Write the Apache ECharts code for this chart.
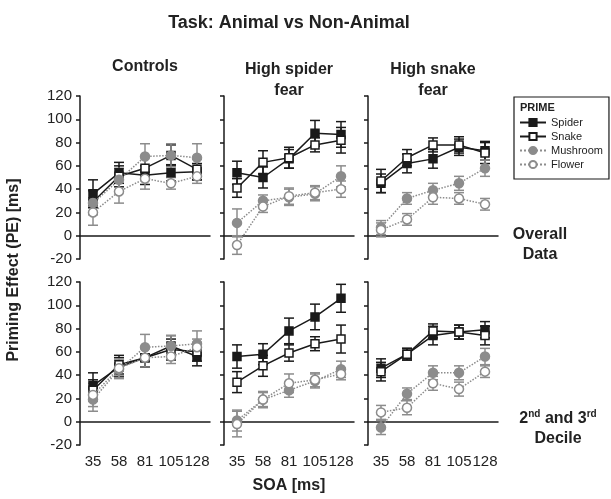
<!DOCTYPE html>
<html>
<head>
<meta charset="utf-8">
<script src="https://cdn.jsdelivr.net/npm/echarts@6/dist/echarts.min.js"></script>
<style>
  html, body { margin: 0; padding: 0; background: #fff; }
  #chart { width: 611px; height: 499px; }
</style>
</head>
<body>
<div id="chart"></div>
<script>
// SOA levels on the x axis
const soa = ['35', '58', '81', '105', '128'];
const primes = ['Spider', 'Snake', 'Mushroom', 'Flower'];

// Priming effect (ms) per group, row 1 = overall data
const ctrlAllSpider   = [36, 54, 52, 54, 55];
const ctrlAllSnake    = [29, 51, 58, 69, 57];
const ctrlAllMushroom = [28, 48, 68, 69, 67];
const ctrlAllFlower   = [20, 38, 49, 45, 51];
const ctrlAllSpiderErr   = [12, 9, 8, 7, 7];
const ctrlAllSnakeErr    = [10, 9, 10, 9, 9];
const ctrlAllMushroomErr = [10, 10, 11, 10, 12];
const ctrlAllFlowerErr   = [11, 10, 9, 5, 6];

const spiAllSpider   = [54, 50, 66, 88, 87];
const spiAllSnake    = [41, 63, 67, 78, 82];
const spiAllMushroom = [11, 30, 33, 36, 51];
const spiAllFlower   = [-8, 25, 34, 37, 40];
const spiAllSpiderErr   = [10, 9, 8, 11, 11];
const spiAllSnakeErr    = [8, 10, 9, 6, 11];
const spiAllMushroomErr = [12, 5, 7, 6, 9];
const spiAllFlowerErr   = [8, 5, 7, 6, 7];

const snaAllSpider   = [45, 62, 66, 76, 73];
const snaAllSnake    = [47, 67, 78, 78, 71];
const snaAllMushroom = [7, 32, 39, 45, 58];
const snaAllFlower   = [5, 14, 33, 32, 27];
const snaAllSpiderErr   = [8, 8, 8, 7, 8];
const snaAllSnakeErr    = [10, 7, 6, 7, 9];
const snaAllMushroomErr = [6, 5, 6, 6, 7];
const snaAllFlowerErr   = [6, 5, 6, 5, 5];

// Row 2 = 2nd and 3rd decile
const ctrlDecSpider   = [31, 47, 55, 65, 56];
const ctrlDecSnake    = [27, 49, 55, 62, 60];
const ctrlDecMushroom = [19, 45, 64, 65, 67];
const ctrlDecFlower   = [23, 46, 55, 56, 64];
const ctrlDecSpiderErr   = [11, 8, 8, 9, 8];
const ctrlDecSnakeErr    = [9, 8, 8, 9, 8];
const ctrlDecMushroomErr = [10, 8, 11, 9, 11];
const ctrlDecFlowerErr   = [10, 8, 8, 6, 7];

const spiDecSpider   = [56, 58, 78, 90, 106];
const spiDecSnake    = [34, 48, 59, 67, 71];
const spiDecMushroom = [1, 19, 27, 35, 45];
const spiDecFlower   = [-2, 19, 33, 36, 41];
const spiDecSpiderErr   = [10, 9, 11, 11, 12];
const spiDecSnakeErr    = [9, 9, 7, 6, 12];
const spiDecMushroomErr = [9, 6, 6, 6, 7];
const spiDecFlowerErr   = [11, 7, 8, 6, 5];

const snaDecSpider   = [46, 58, 74, 77, 79];
const snaDecSnake    = [43, 58, 78, 77, 74];
const snaDecMushroom = [-5, 24, 42, 42, 56];
const snaDecFlower   = [8, 12, 33, 28, 43];
const snaDecSpiderErr   = [8, 5, 8, 6, 7];
const snaDecSnakeErr    = [8, 5, 6, 6, 8];
const snaDecMushroomErr = [6, 5, 6, 6, 7];
const snaDecFlowerErr   = [6, 6, 6, 6, 5];

const panels = [
  [ctrlAllSpider, ctrlAllSnake, ctrlAllMushroom, ctrlAllFlower],
  [spiAllSpider, spiAllSnake, spiAllMushroom, spiAllFlower],
  [snaAllSpider, snaAllSnake, snaAllMushroom, snaAllFlower],
  [ctrlDecSpider, ctrlDecSnake, ctrlDecMushroom, ctrlDecFlower],
  [spiDecSpider, spiDecSnake, spiDecMushroom, spiDecFlower],
  [snaDecSpider, snaDecSnake, snaDecMushroom, snaDecFlower]
];
const panelErrs = [
  [ctrlAllSpiderErr, ctrlAllSnakeErr, ctrlAllMushroomErr, ctrlAllFlowerErr],
  [spiAllSpiderErr, spiAllSnakeErr, spiAllMushroomErr, spiAllFlowerErr],
  [snaAllSpiderErr, snaAllSnakeErr, snaAllMushroomErr, snaAllFlowerErr],
  [ctrlDecSpiderErr, ctrlDecSnakeErr, ctrlDecMushroomErr, ctrlDecFlowerErr],
  [spiDecSpiderErr, spiDecSnakeErr, spiDecMushroomErr, spiDecFlowerErr],
  [snaDecSpiderErr, snaDecSnakeErr, snaDecMushroomErr, snaDecFlowerErr]
];

const FONT = '"Liberation Sans", Arial, sans-serif';
const DARK = '#1a1a1a';
const GREY = '#8c8c8c';

// visual style of each prime
const styles = [
  { symbol: 'rect',   size: 8, fill: DARK,   stroke: DARK, line: DARK, type: 'solid',  bar: DARK },
  { symbol: 'rect',   size: 8, fill: '#fff', stroke: DARK, line: DARK, type: 'solid',  bar: DARK },
  { symbol: 'circle', size: 9, fill: GREY,   stroke: GREY, line: GREY, type: 'dotted', bar: GREY },
  { symbol: 'circle', size: 9, fill: '#fff', stroke: GREY, line: GREY, type: 'dotted', bar: GREY }
];

const colLeft = [80, 224, 368];
const rowTop = [96, 282];
const gridW = 130, gridH = 163;

const grids = [], xAxes = [], yAxes = [], series = [];

for (let p = 0; p < 6; p++) {
  const r = Math.floor(p / 3), c = p % 3;
  grids.push({ left: colLeft[c], top: rowTop[r], width: gridW, height: gridH });
  xAxes.push({
    type: 'category', gridIndex: p, data: soa, boundaryGap: true,
    axisLine: { lineStyle: { color: DARK, width: 1.5 } },
    axisTick: { alignWithLabel: true, length: 4, lineStyle: { color: DARK, width: 1.5 } },
    axisLabel: { show: r === 1, color: '#222', fontSize: 15, fontFamily: FONT, margin: 9, interval: 0 },
    splitLine: { show: false }
  });
  yAxes.push({
    type: 'value', gridIndex: p, min: -20, max: 120, interval: 20,
    axisLine: { show: true, lineStyle: { color: DARK, width: 1.5 } },
    axisTick: { show: true, length: 4, lineStyle: { color: DARK, width: 1.5 } },
    axisLabel: { show: c === 0, color: '#222', fontSize: 15, fontFamily: FONT, margin: 8 },
    splitLine: { show: false }
  });

  for (let s = 0; s < 4; s++) {
    const st = styles[s];
    const vals = panels[p][s];
    const errs = panelErrs[p][s];
    // error bars
    series.push({
      type: 'custom', name: primes[s] + ' SE', xAxisIndex: p, yAxisIndex: p, z: 2,
      data: vals.map((v, i) => [i, v, errs[i]]),
      encode: { x: 0, y: 1 },
      silent: true,
      renderItem: (function (color) {
        return function (params, api) {
          const i = api.value(0), v = api.value(1), e = api.value(2);
          const hi = api.coord([i, v + e]);
          const lo = api.coord([i, v - e]);
          const h = 5;
          const st = { stroke: color, lineWidth: 1.5 };
          return {
            type: 'group',
            children: [
              { type: 'line', shape: { x1: hi[0], y1: hi[1], x2: lo[0], y2: lo[1] }, style: st },
              { type: 'line', shape: { x1: hi[0] - h, y1: hi[1], x2: hi[0] + h, y2: hi[1] }, style: st },
              { type: 'line', shape: { x1: lo[0] - h, y1: lo[1], x2: lo[0] + h, y2: lo[1] }, style: st }
            ]
          };
        };
      })(st.bar)
    });
    // means
    series.push({
      type: 'line', name: primes[s], xAxisIndex: p, yAxisIndex: p, z: 3 + s,
      data: vals,
      symbol: st.symbol, symbolSize: st.size, showSymbol: true,
      lineStyle: { color: st.line, width: 1.5, type: st.type },
      itemStyle: { color: st.fill, borderColor: st.stroke, borderWidth: 1.5 },
      emphasis: { disabled: true },
      animation: false
    });
  }
}

const option = {
  backgroundColor: '#fff',
  animation: false,
  grid: grids,
  xAxis: xAxes,
  yAxis: yAxes,
  series: series,
  legend: {
    data: primes, orient: 'vertical', left: 514, top: 97,
    itemWidth: 26, itemHeight: 9, itemGap: 3,
    textStyle: { fontSize: 11, fontFamily: FONT, color: '#222' },
    borderColor: DARK, borderWidth: 1.2, borderRadius: 0,
    padding: [20, 6, 9, 5],
    selectedMode: false
  },
  graphic: [
    { type: 'text', x: 289, y: 14, style: { text: 'Task: Animal vs Non-Animal', font: 'bold 18px ' + FONT, fill: '#222', textAlign: 'center' } },
    { type: 'text', x: 145, y: 59, style: { text: 'Controls', font: 'bold 16px ' + FONT, fill: '#222', textAlign: 'center' } },
    { type: 'text', x: 289, y: 59, style: { text: 'High spider\nfear', font: 'bold 16px ' + FONT, fill: '#222', textAlign: 'center', lineHeight: 21 } },
    { type: 'text', x: 433, y: 59, style: { text: 'High snake\nfear', font: 'bold 16px ' + FONT, fill: '#222', textAlign: 'center', lineHeight: 21 } },
    { type: 'text', x: 520, y: 102, style: { text: 'PRIME', font: 'bold 11px ' + FONT, fill: '#222' } },
    { type: 'text', x: 540, y: 225, style: { text: 'Overall\nData', font: 'bold 16px ' + FONT, fill: '#222', textAlign: 'center', lineHeight: 20 } },
    {
      type: 'text', x: 558, y: 407,
      style: {
        text: '{b|2}{s|nd}{b| and 3}{s|rd}\n{b|Decile}', textAlign: 'center', fill: '#222',
        rich: {
          b: { font: 'bold 16px ' + FONT, fill: '#222', lineHeight: 20, verticalAlign: 'bottom' },
          s: { font: 'bold 10px ' + FONT, fill: '#222', lineHeight: 20, verticalAlign: 'bottom', padding: [0, 0, 8, 0] }
        }
      }
    },
    { type: 'text', x: 289, y: 478, style: { text: 'SOA [ms]', font: 'bold 16px ' + FONT, fill: '#222', textAlign: 'center' } },
    { type: 'text', x: 14, y: 270, rotation: Math.PI / 2, style: { text: 'Priming Effect (PE) [ms]', font: 'bold 16px ' + FONT, fill: '#222', textAlign: 'center', textVerticalAlign: 'middle' } }
  ]
};

const chart = echarts.init(document.getElementById('chart'), null, { renderer: 'canvas' });
chart.setOption(option);
</script>
</body>
</html>
